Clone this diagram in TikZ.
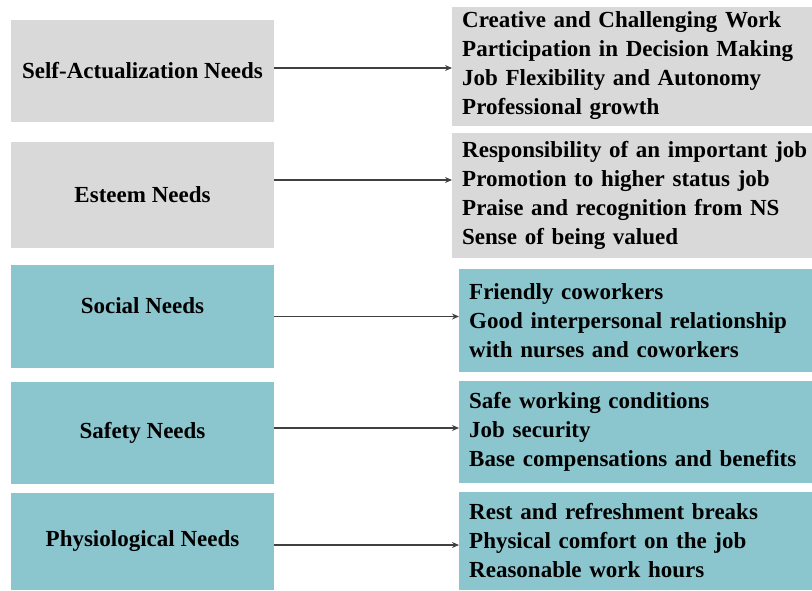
\documentclass[tikz,border=0pt]{standalone}
\usepackage{fontspec}
\setmainfont{Liberation Serif}
\usetikzlibrary{positioning,arrows.meta}

\definecolor{needgray}{HTML}{D9D9D9}
\definecolor{needteal}{HTML}{8BC6CE}

\begin{document}
\begin{tikzpicture}[x=1pt, y=-1pt,
    need/.style={rectangle, minimum width=263pt, inner sep=0pt, align=center, font=\fontsize{23}{29}\selectfont\bfseries},
    factor/.style={rectangle, anchor=west, text width=400pt, inner xsep=10pt, inner ysep=0pt, align=left, font=\fontsize{23}{29}\selectfont\bfseries},
    conn/.style={draw=black!75, line width=1.1pt, -{Stealth[length=7pt,width=6pt]}}]

    \useasboundingbox (0,0) rectangle (812,590);

    % left column: the five needs
    \node[need, fill=needgray, minimum height=102pt] (self) at (142.5,71) {Self-Actualization Needs};
    \node[need, fill=needgray, minimum height=106pt] (esteem) at (142.5,195) {Esteem Needs};
    \node[need, fill=needteal, minimum height=103pt] (social) at (142.5,316.5) {\raisebox{21pt}{Social Needs}};
    \node[need, fill=needteal, minimum height=102pt] (safety) at (142.5,433) {Safety Needs};
    \node[need, fill=needteal, minimum height=97pt] (physio) at (142.5,541.5) {Physiological Needs};

    % right column: what the job offers
    \node[factor, fill=needgray, minimum height=119pt] (selfr) at (452,66) {Creative and Challenging Work\\Participation in Decision Making\\Job Flexibility and Autonomy\\Professional growth};
    \node[factor, fill=needgray, minimum height=125pt] (esteemr) at (452,195.5) {Responsibility of an important job\\Promotion to higher status job\\Praise and recognition from NS\\Sense of being valued};
    \node[factor, fill=needteal, minimum height=103pt] (socialr) at (459,320.5) {Friendly coworkers\\Good interpersonal relationship\\with nurses and coworkers};
    \node[factor, fill=needteal, minimum height=102pt] (safetyr) at (459,432) {Safe working conditions\\Job security\\Base compensations and benefits};
    \node[factor, fill=needteal, minimum height=98pt] (physior) at (459,541) {Rest and refreshment breaks\\Physical comfort on the job\\Reasonable work hours};

    % connectors
    \draw[conn] ([yshift=3pt]self.east) -- ([yshift=3pt]self.east -| selfr.west);
    \draw[conn] ([yshift=15pt]esteem.east) -- ([yshift=15pt]esteem.east -| esteemr.west);
    \draw[conn] (social.east) -- (social.east -| socialr.west);
    \draw[conn] ([yshift=5pt]safety.east) -- ([yshift=5pt]safety.east -| safetyr.west);
    \draw[conn] ([yshift=-3.5pt]physio.east) -- ([yshift=-3.5pt]physio.east -| physior.west);
\end{tikzpicture}
\end{document}
